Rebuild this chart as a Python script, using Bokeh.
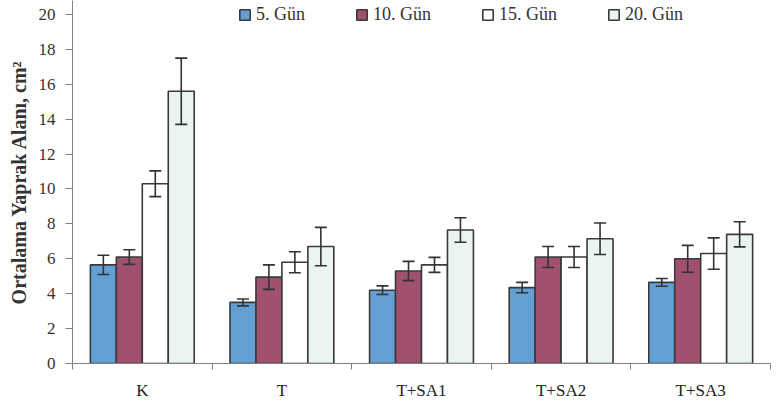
import numpy as np
from bokeh.plotting import figure
from bokeh.models import (Range1d, FixedTicker, ColumnDataSource, Whisker, TeeHead, Legend, LegendItem)
from bokeh.embed import file_html
from bokeh.resources import INLINE

categories = ["K", "T", "T+SA1", "T+SA2", "T+SA3"]
series = ["5. Gün", "10. Gün", "15. Gün", "20. Gün"]
gun5 = [5.65, 3.5, 4.2, 4.35, 4.65]
gun10 = [6.1, 4.95, 5.3, 6.1, 6.0]
gun15 = [10.3, 5.8, 5.65, 6.1, 6.3]
gun20 = [15.6, 6.7, 7.65, 7.15, 7.4]
err5 = [0.55, 0.2, 0.25, 0.3, 0.22]
err10 = [0.42, 0.7, 0.55, 0.6, 0.77]
err15 = [0.74, 0.6, 0.43, 0.6, 0.9]
err20 = [1.9, 1.1, 0.7, 0.9, 0.72]
y_ticks = [0, 2, 4, 6, 8, 10, 12, 14, 16, 18, 20]

values = [gun5, gun10, gun15, gun20]
errors = [err5, err10, err15, err20]
colors = ["#639fd3", "#a2506f", "#ffffff", "#e9f4f3"]

FONT = "Liberation Serif"

p = figure(width=772, height=402, output_backend="svg", toolbar_location=None,
           x_range=Range1d(0, 5), y_range=Range1d(0, 20.8),
           min_border_left=72, min_border_right=2, min_border_top=0, min_border_bottom=39)
p.outline_line_color = None
p.xgrid.visible = False
p.ygrid.visible = False
p.background_fill_color = "#ffffff"

bw = 0.186
offsets = [-1.5 * bw, -0.5 * bw, 0.5 * bw, 1.5 * bw]
centers = np.arange(len(categories)) + 0.5

items = []
for i, (vals, errs) in enumerate(zip(values, errors)):
    xs = centers + offsets[i]
    v = np.array(vals)
    e = np.array(errs)
    src = ColumnDataSource(dict(x=xs, top=v, upper=v + e, lower=v - e))
    r = p.vbar(x="x", top="top", width=bw, bottom=0, source=src,
               fill_color=colors[i], line_color="#3a3a3a", line_width=1.6)
    items.append(LegendItem(label=series[i], renderers=[r]))
    w = Whisker(base="x", upper="upper", lower="lower", source=src, level="overlay",
                line_color="#333333", line_width=1.6,
                upper_head=TeeHead(size=12, line_color="#333333", line_width=1.6),
                lower_head=TeeHead(size=12, line_color="#333333", line_width=1.6))
    p.add_layout(w)

legend = Legend(items=items, orientation="horizontal", location=(166, 338),
                border_line_color=None, background_fill_alpha=0,
                label_text_font=FONT, label_text_font_size="18px", label_text_color="#333333",
                glyph_width=13, glyph_height=13, label_standoff=5, spacing=50,
                padding=0, margin=0)
p.add_layout(legend)

# x axis
p.xaxis.ticker = FixedTicker(ticks=list(centers), minor_ticks=list(range(len(categories) + 1)))
p.xaxis.major_label_overrides = {float(c): lab for c, lab in zip(centers, categories)}
p.xaxis.major_tick_line_color = None
p.xaxis.major_tick_out = 0
p.xaxis.major_tick_in = 0
p.xaxis.minor_tick_out = 6
p.xaxis.minor_tick_in = 0
p.xaxis.minor_tick_line_color = "#808080"
p.xaxis.axis_line_color = "#808080"
p.xaxis.major_label_standoff = 11
p.xaxis.major_label_text_font = FONT
p.xaxis.major_label_text_font_size = "17px"
p.xaxis.major_label_text_color = "#222222"

# y axis
p.yaxis.ticker = FixedTicker(ticks=y_ticks, minor_ticks=[])
p.yaxis.major_tick_out = 7
p.yaxis.major_tick_in = 0
p.yaxis.major_tick_line_color = "#808080"
p.yaxis.axis_line_color = "#808080"
p.yaxis.minor_tick_line_color = None
p.yaxis.major_label_standoff = 10
p.yaxis.major_label_text_font = FONT
p.yaxis.major_label_text_font_size = "17px"
p.yaxis.major_label_text_color = "#333333"
p.yaxis.axis_label = "Ortalama Yaprak Alanı, cm²"
p.yaxis.axis_label_text_font = FONT
p.yaxis.axis_label_text_font_style = "bold"
p.yaxis.axis_label_text_font_size = "20px"
p.yaxis.axis_label_text_color = "#333333"
p.yaxis.axis_label_standoff = 6

open("out.html", "w").write(file_html(p, INLINE))
